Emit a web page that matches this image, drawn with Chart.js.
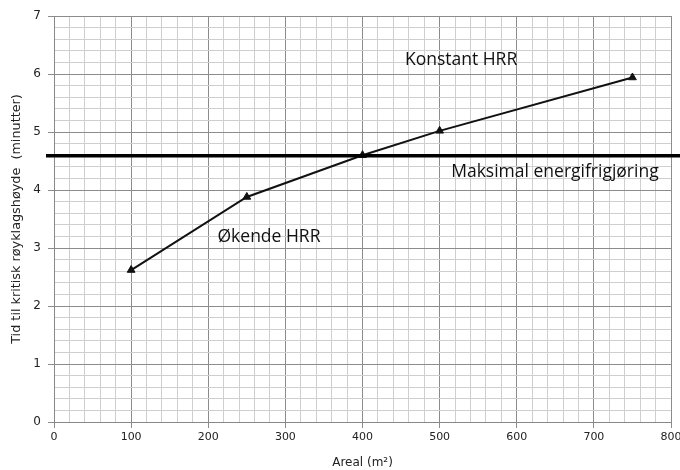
<!DOCTYPE html>
<html>
<head>
<meta charset="utf-8">
<script src="https://cdn.jsdelivr.net/npm/chart.js@4/dist/chart.umd.min.js"></script>
<style>
  html, body { margin: 0; padding: 0; background: #fff; }
  #wrap { width: 680px; height: 470px; }
</style>
</head>
<body>
<div id="wrap"><canvas id="chart"></canvas></div>
<script>
// Areal (m²) og tid (minutter)
const areal = [100, 250, 400, 500, 750];
const tid = [2.62, 3.88, 4.60, 5.02, 5.94];

// Maksimal energifrigjøring
const maksLinje = 4.59;

const xTicks = [0, 100, 200, 300, 400, 500, 600, 700, 800];
const yTicks = [0, 1, 2, 3, 4, 5, 6, 7];

// tekster i diagrammet (x, y i dataverdier)
const notes = [
    { text: 'Konstant HRR', x: 455, y: 6.24 },
    { text: 'Maksimal energifrigjøring', x: 515, y: 4.31 },
    { text: 'Økende HRR', x: 212, y: 3.19 },
];

const noteFont = '17.5px "Open Sans"';

// tegner den tykke linjen og tekstene
const extrasPlugin = {
    id: 'extras',
    afterDatasetsDraw(chart)
    {
        const ctx = chart.ctx;
        const xs = chart.scales.x;
        const ys = chart.scales.y;

        ctx.save();
        const yPix = ys.getPixelForValue(maksLinje);
        ctx.strokeStyle = '#000';
        ctx.lineWidth = 3.5;
        ctx.beginPath();
        ctx.moveTo(xs.left - 8, yPix);
        ctx.lineTo(chart.width, yPix);
        ctx.stroke();

        ctx.fillStyle = '#111';
        ctx.font = noteFont;
        ctx.textAlign = 'left';
        ctx.textBaseline = 'middle';
        notes.forEach(n =>
        {
            ctx.fillText(n.text, xs.getPixelForValue(n.x), ys.getPixelForValue(n.y));
        });
        ctx.restore();
    }
};

function isMajor(value, step)
{
    return Math.abs(value / step - Math.round(value / step)) < 1e-6;
}

const ctx = document.getElementById('chart').getContext('2d');

new Chart(ctx, {
    type: 'line',
    data: {
        datasets: [{
            data: areal.map((a, i) => ({ x: a, y: tid[i] })),
            borderColor: '#111',
            backgroundColor: '#111',
            borderWidth: 2,
            pointStyle: 'triangle',
            pointRadius: 4.5,
            pointBorderWidth: 1,
            fill: false,
            tension: 0,
        }]
    },
    options: {
        responsive: true,
        maintainAspectRatio: false,
        animation: false,
        layout: {
            padding: { top: 16, right: 9, left: 0, bottom: 0 }
        },
        plugins: {
            legend: { display: false },
            tooltip: { enabled: false },
        },
        scales: {
            x: {
                type: 'linear',
                min: xTicks[0],
                max: xTicks[xTicks.length - 1],
                afterFit(scale)
                {
                    scale.height = 48;
                    scale.paddingLeft = 0;
                    scale.paddingRight = 0;
                },
                border: { color: '#888', width: 1 },
                grid: {
                    color: c => isMajor(c.tick.value, 100) ? '#8c8c8c' : '#cfcfcf',
                    tickColor: c => isMajor(c.tick.value, 100) ? '#8c8c8c' : 'rgba(0,0,0,0)',
                    tickLength: 6,
                    lineWidth: 1,
                },
                ticks: {
                    stepSize: 20,
                    autoSkip: false,
                    maxRotation: 0,
                    padding: 3,
                    color: '#222',
                    font: { family: 'DejaVu Sans', size: 11 },
                    callback: v => xTicks.includes(v) ? String(v) : '',
                },
                title: {
                    display: true,
                    text: 'Areal (m²)',
                    color: '#222',
                    font: { family: 'DejaVu Sans', size: 12 },
                    padding: { top: 2, bottom: 0 },
                },
            },
            y: {
                type: 'linear',
                min: yTicks[0],
                max: yTicks[yTicks.length - 1],
                afterFit(scale)
                {
                    scale.width = 54;
                    scale.paddingTop = 0;
                    scale.paddingBottom = 0;
                },
                border: { color: '#888', width: 1 },
                grid: {
                    color: c => isMajor(c.tick.value, 1) ? '#8c8c8c' : '#cfcfcf',
                    tickColor: c => isMajor(c.tick.value, 1) ? '#8c8c8c' : 'rgba(0,0,0,0)',
                    tickLength: 6,
                    lineWidth: 1,
                },
                ticks: {
                    stepSize: 0.2,
                    autoSkip: false,
                    padding: 7,
                    color: '#222',
                    font: { family: 'DejaVu Sans', size: 12 },
                    callback: v => yTicks.some(t => Math.abs(t - v) < 1e-6) ? String(Math.round(v)) : '',
                },
                title: {
                    display: true,
                    text: 'Tid til kritisk røyklagshøyde  (minutter)',
                    color: '#222',
                    font: { family: 'DejaVu Sans', size: 12.8 },
                    padding: { top: 9, bottom: 0 },
                },
            },
        },
    },
    plugins: [extrasPlugin],
});
</script>
</body>
</html>
